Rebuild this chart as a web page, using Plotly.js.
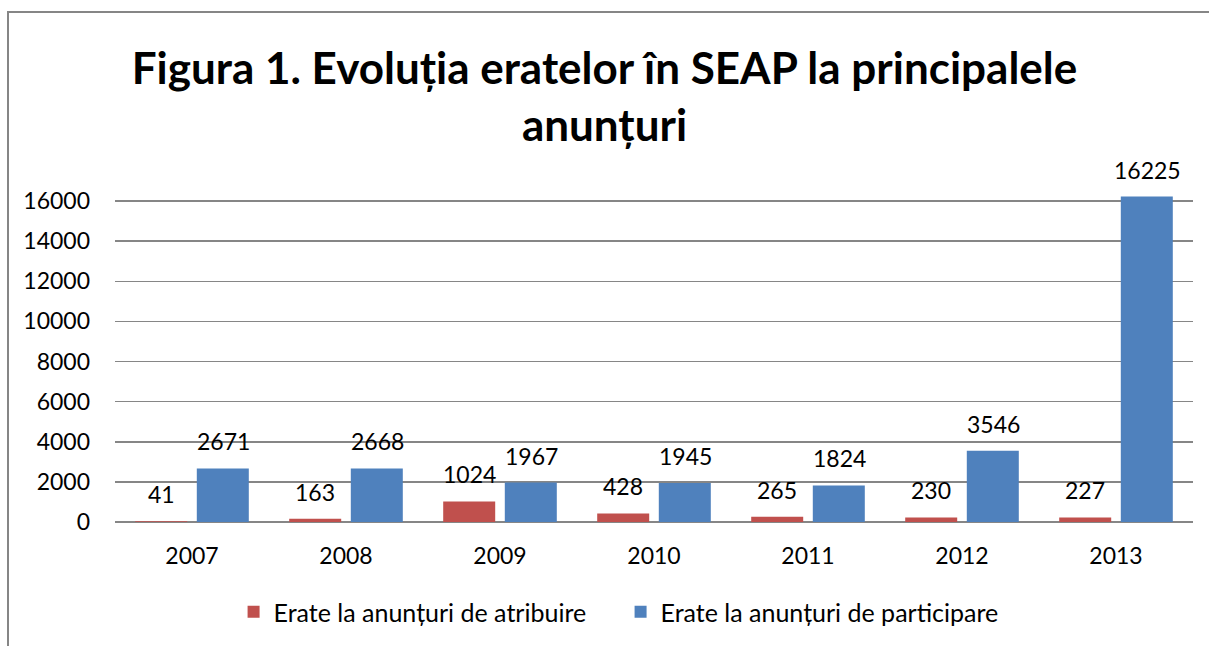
<!DOCTYPE html>
<html><head><meta charset="utf-8">
<script src="https://cdn.plot.ly/plotly-3.0.1.min.js"></script>
<style>
html,body{margin:0;padding:0;background:#fff;}
#chart{position:absolute;left:0;top:0;width:1209px;height:646px;}
.ln{position:absolute;background:#868686;pointer-events:none;}
</style></head>
<body>
<div id="chart"></div>
<div class="ln" style="left:7px;top:11px;width:2px;height:635px;"></div>
<div class="ln" style="left:7px;top:11px;width:1202px;height:2px;"></div>
<script>
const years = ['2007','2008','2009','2010','2011','2012','2013'];
const atribuire = [41,163,1024,428,265,230,227];
const participare = [2671,2668,1967,1945,1824,3546,16225];
const seriesNames = ['Erate la anunțuri de atribuire','Erate la anunțuri de participare'];
const yTicks = [0,2000,4000,6000,8000,10000,12000,14000,16000];
const colors = ['#C0504D','#4F81BD'];
const font = 'Lato, "Open Sans", sans-serif';

const traces = [atribuire, participare].map((vals,i)=>({
  type:'bar', x:years, y:vals, name:seriesNames[i],
  marker:{color:colors[i]}, hoverinfo:'skip'
}));

const annotations = [];
[atribuire, participare].forEach((vals,i)=>{
  vals.forEach((v,j)=>{
    annotations.push({x:years[j], y:v, xref:'x', yref:'y', text:String(v),
      showarrow:false, xanchor:'center', yanchor:'middle', xshift: i===0?-31:31, yshift:27,
      font:{family:font,size:23,color:'#000'}});
  });
});

const layout = {
  width:1209, height:646,
  margin:{l:115,r:16,t:193,b:123},
  paper_bgcolor:'rgba(0,0,0,0)', plot_bgcolor:'#fff',
  title:{text:'Figura 1. Evoluția eratelor în SEAP la principalele<br>anunțuri',
    font:{family:font,size:44,color:'#000',weight:'bold'},
    x:0.5, xanchor:'center', y:0.87, yanchor:'top', xref:'container', yref:'container'},
  barmode:'group', bargap:0.2, bargroupgap:0.156,
  xaxis:{tickfont:{family:font,size:23,color:'#000'}, showline:false, ticks:'', ticklabelstandoff:18},
  yaxis:{range:[0,16400], tickvals:yTicks, ticktext:yTicks.map(String),
    showgrid:true, gridcolor:'#868686', gridwidth:1.5, zeroline:true, zerolinecolor:'#868686', zerolinewidth:1.5,
    tickfont:{family:font,size:23,color:'#000'}, ticks:'', showline:false, ticklabelstandoff:24},
  legend:{orientation:'h', x:0.469, xanchor:'center', y:-0.27, yanchor:'middle',
    font:{family:font,size:25,color:'#000'}, traceorder:'normal', entrywidth:342},
  annotations:annotations,
  showlegend:true
};
Plotly.newPlot('chart', traces, layout, {displayModeBar:false, staticPlot:true});
</script>
</body></html>
